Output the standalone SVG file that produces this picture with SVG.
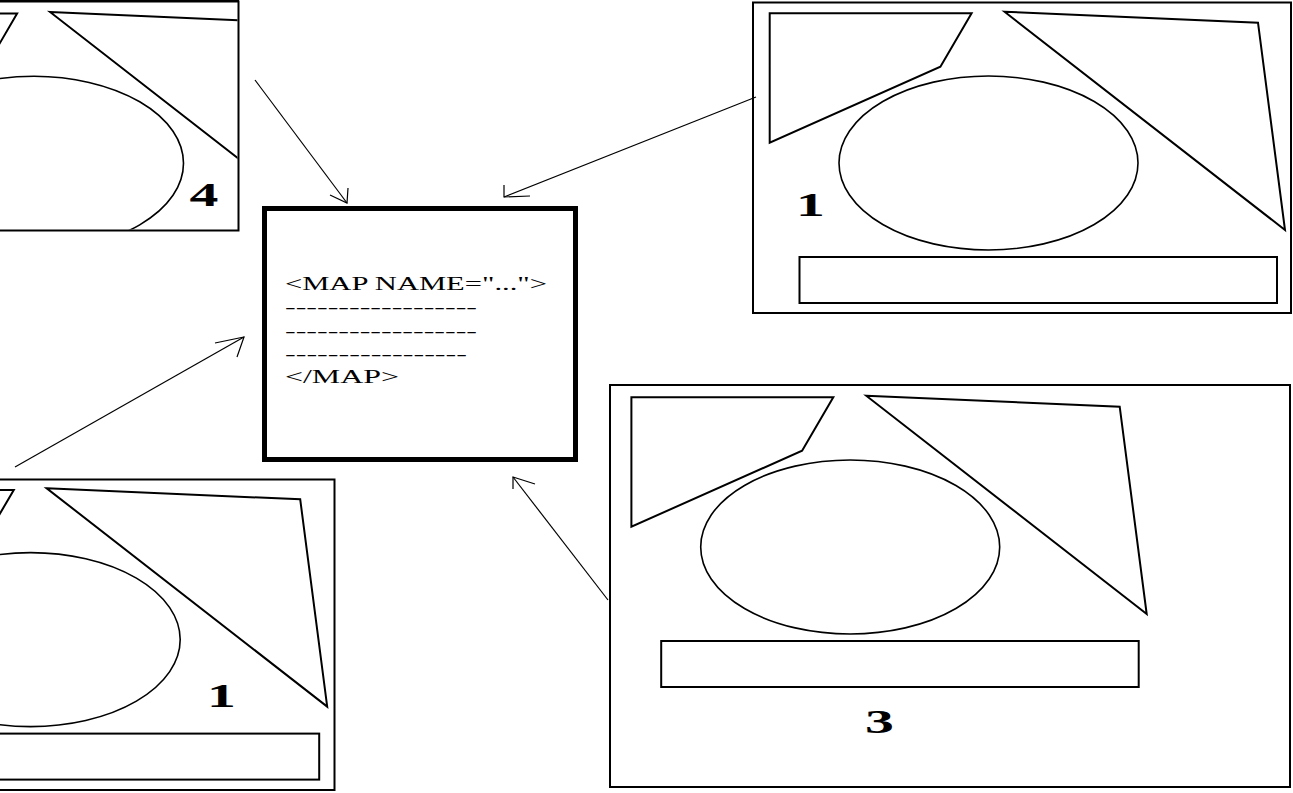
<svg xmlns="http://www.w3.org/2000/svg" xmlns:xlink="http://www.w3.org/1999/xlink" width="1293" height="793" viewBox="0 0 1293 793">
<style>
.frame{fill:none;stroke:#000;stroke-width:2}
.shape{fill:none;stroke:#000;stroke-width:2;stroke-linejoin:miter}
.ell{fill:none;stroke:#000;stroke-width:1.6}
.conn{fill:none;stroke:#000;stroke-width:1.2}
.num{font-family:"Liberation Serif","Times New Roman",serif;font-weight:bold;font-size:34px;fill:#000}
.code{font-family:"Liberation Serif","Times New Roman",serif;font-size:18px;fill:#000}
</style>
<defs>
<g id="art">
<path class="shape" d="M769.7,13.3 L971.6,13.3 L940.4,66.7 L769.7,142.7 Z"/>
<path class="shape" d="M1004.5,11.7 L1258,22.7 L1285,230 Z"/>
<ellipse class="ell" cx="988.5" cy="163" rx="149.5" ry="87"/>
<rect class="shape" x="799.5" y="257" width="477.5" height="46"/>
</g>
<clipPath id="clipTL"><rect x="-20" y="2.5" width="257.5" height="227"/></clipPath>
<clipPath id="clipBL"><rect x="-20" y="480.5" width="353.5" height="308.5"/></clipPath>
</defs>
<rect x="0" y="0" width="1293" height="793" fill="#fff"/>

<g id="panel-4">
<rect class="frame" x="-10" y="1.5" width="248.5" height="229"/>
<line x1="0" y1="1" x2="239" y2="1" stroke="#000" stroke-width="2"/>
<g clip-path="url(#clipTL)"><use xlink:href="#art" href="#art" transform="translate(-954.5,0.3)"/></g>
<text class="num" text-anchor="middle" transform="translate(204,206) scale(1.7,1)">4</text>
</g>

<g id="panel-1-top">
<rect class="frame" x="753" y="2.5" width="538" height="310.5"/>
<use xlink:href="#art" href="#art"/>
<text class="num" text-anchor="middle" transform="translate(810.5,216) scale(1.7,1)">1</text>
</g>

<g id="panel-1-bottom">
<rect class="frame" x="-10" y="479.5" width="344.5" height="310.5"/>
<g clip-path="url(#clipBL)"><use xlink:href="#art" href="#art" transform="translate(-957.8,476.6)"/></g>
<text class="num" text-anchor="middle" transform="translate(221.5,707) scale(1.7,1)">1</text>
</g>

<g id="panel-3">
<rect class="frame" x="610" y="385" width="680" height="402"/>
<use xlink:href="#art" href="#art" transform="translate(-138.3,384)"/>
<text class="num" text-anchor="middle" transform="translate(879.5,733) scale(1.7,1)">3</text>
</g>

<g id="map-box">
<rect x="264.5" y="208.5" width="311" height="251" fill="#fff" stroke="#000" stroke-width="5"/>
<text class="code" x="285" y="290" textLength="262" lengthAdjust="spacingAndGlyphs">&lt;MAP NAME="..."&gt;</text>
<text class="code" x="285" y="313" textLength="192" lengthAdjust="spacingAndGlyphs">------------------</text>
<text class="code" x="285" y="337" textLength="192" lengthAdjust="spacingAndGlyphs">------------------</text>
<text class="code" x="285" y="360" textLength="182" lengthAdjust="spacingAndGlyphs">-----------------</text>
<text class="code" x="285" y="383" textLength="114" lengthAdjust="spacingAndGlyphs">&lt;/MAP&gt;</text>
</g>

<g id="connectors">
<line class="conn" x1="255" y1="80" x2="347" y2="203"/>
<polyline class="conn" points="330,195 347,203 348,188"/>
<line class="conn" x1="756" y1="97" x2="504" y2="197"/>
<polyline class="conn" points="504,185 504,197 530,196"/>
<line class="conn" x1="15" y1="467" x2="244" y2="337"/>
<polyline class="conn" points="215,343 244,337 237,357"/>
<line class="conn" x1="608" y1="600" x2="513" y2="477"/>
<polyline class="conn" points="513,489 513,477 535,484"/>
</g>
</svg>
